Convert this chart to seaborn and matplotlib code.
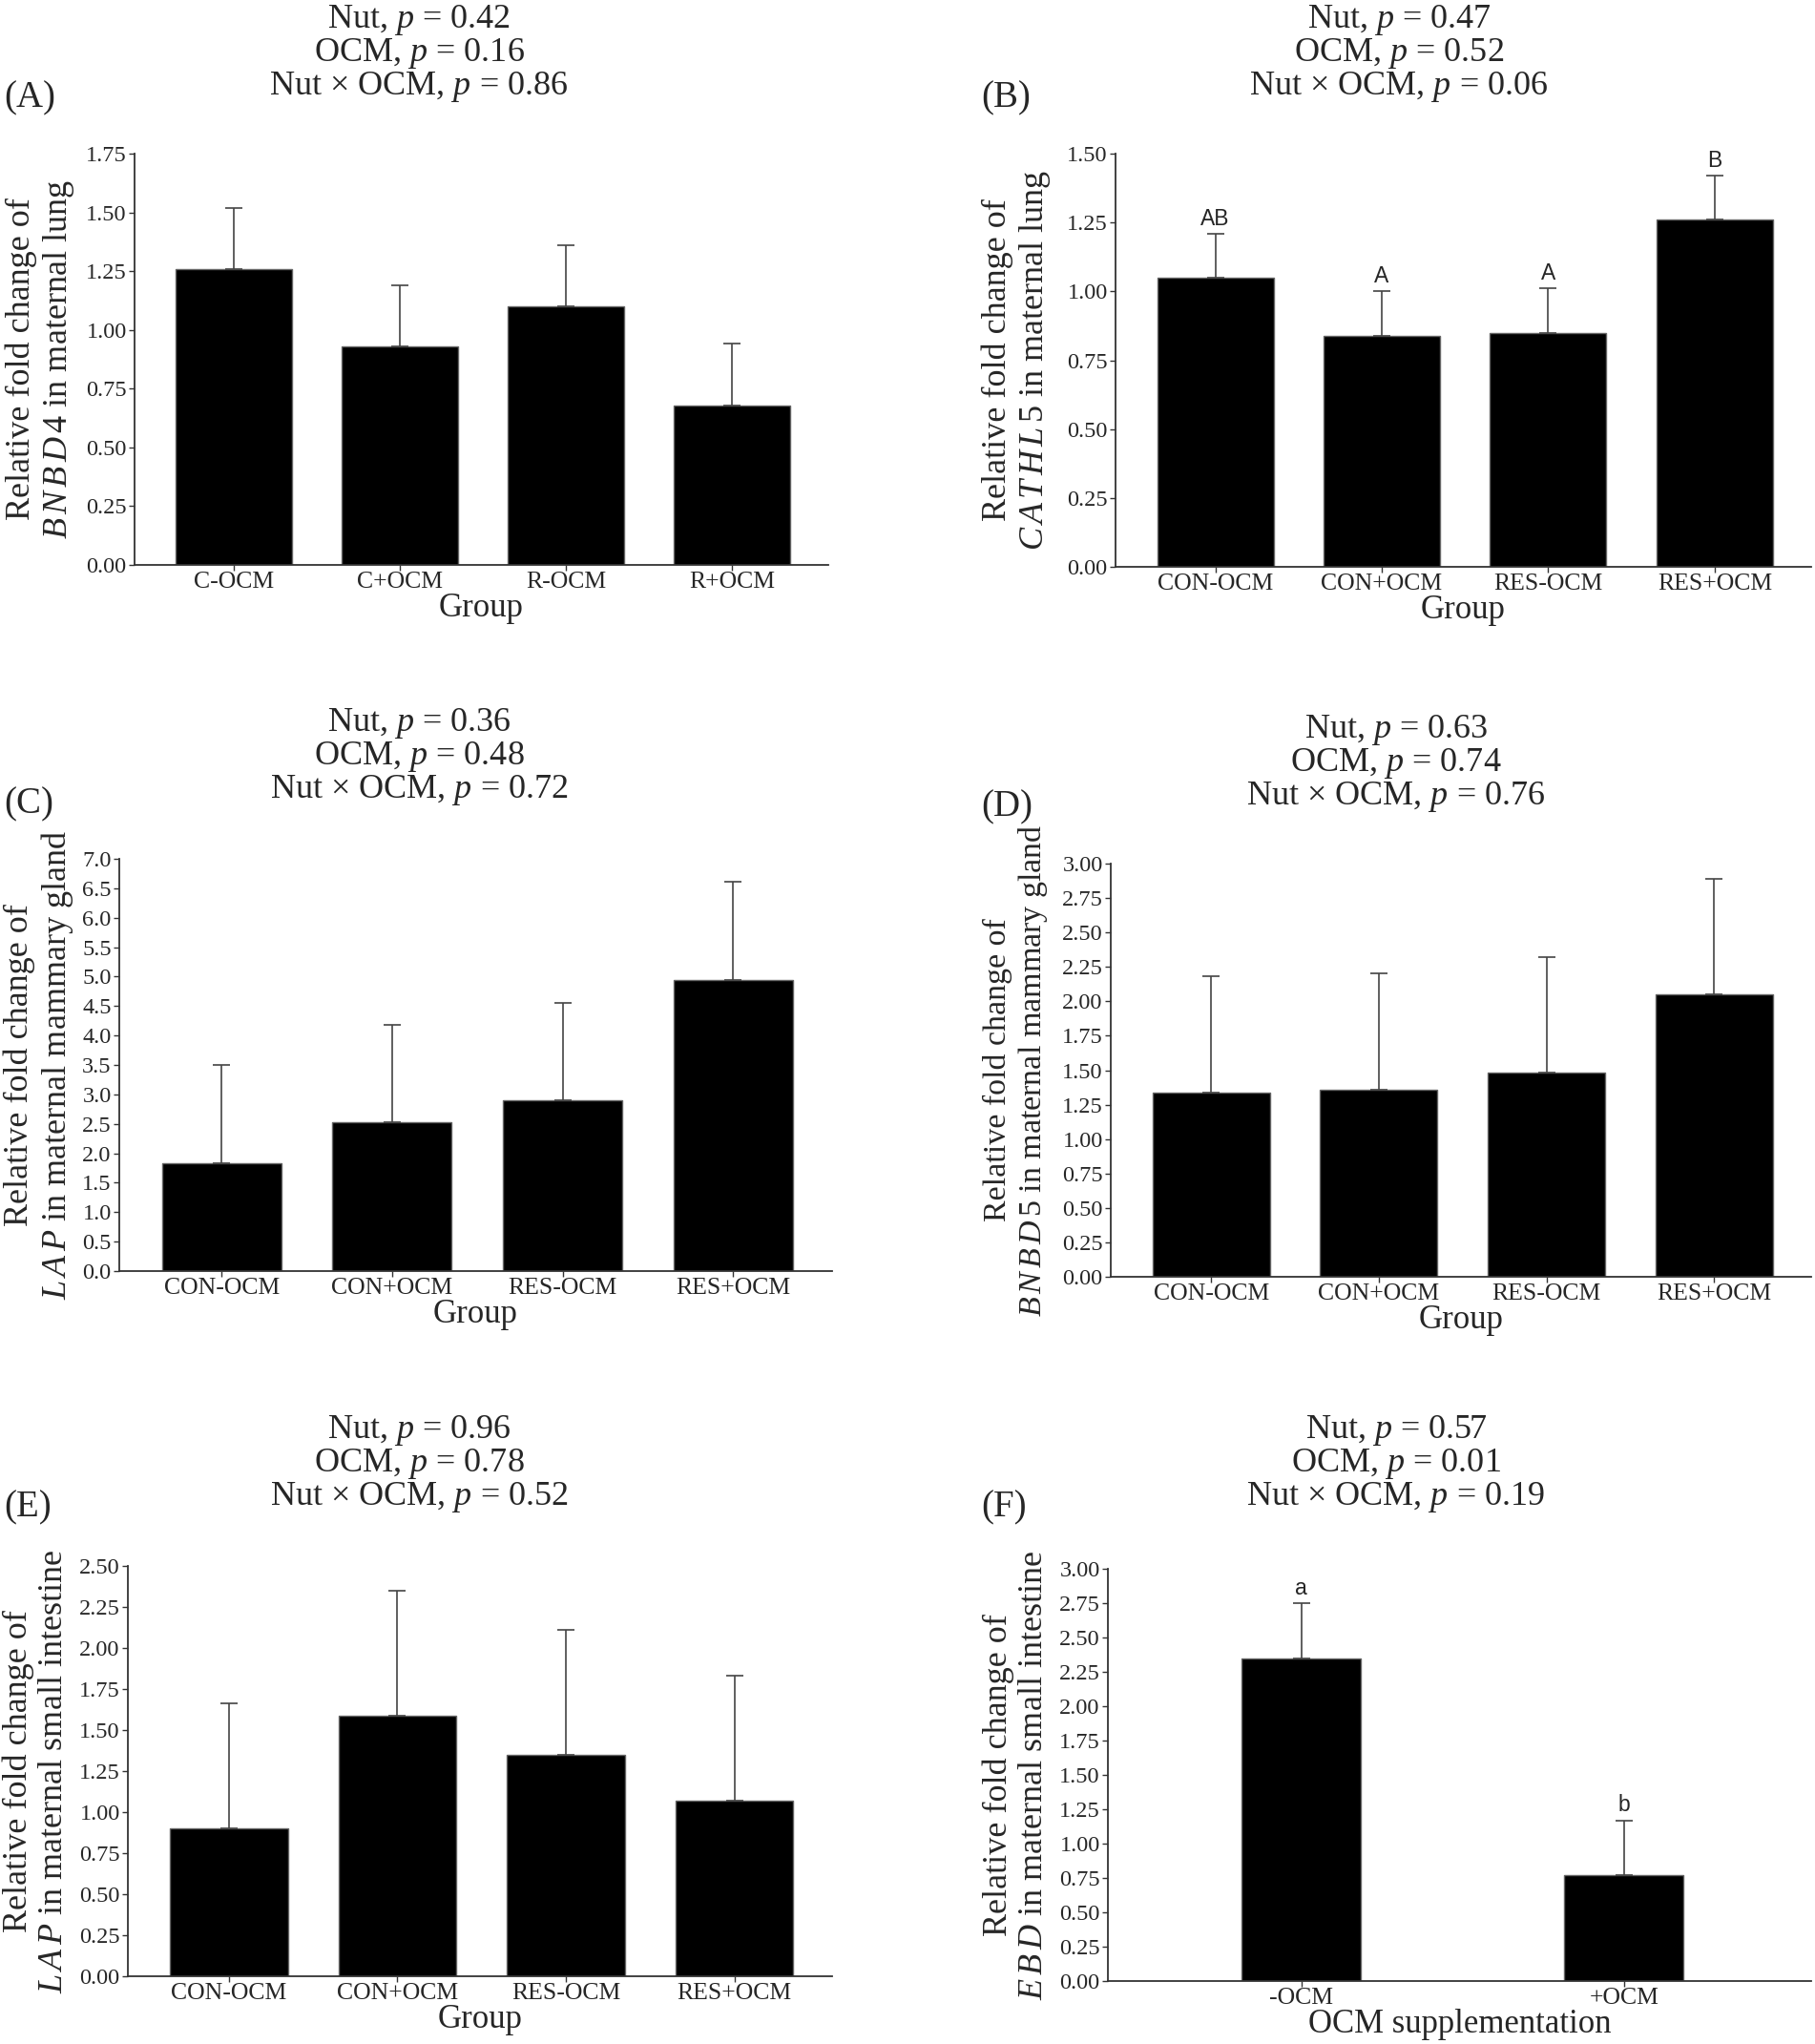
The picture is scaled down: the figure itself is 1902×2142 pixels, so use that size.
import numpy as np
import pandas as pd
import seaborn as sns
from matplotlib import pyplot as plt

### Values (bar means and top of the error bars)
groups_a = ['C-OCM', 'C+OCM', 'R-OCM', 'R+OCM']
groups = ['CON-OCM', 'CON+OCM', 'RES-OCM', 'RES+OCM']
groups_f = ['-OCM', '+OCM']

a_mean = [1.26, 0.93, 1.10, 0.68]
a_upper = [1.52, 1.19, 1.36, 0.94]
b_mean = [1.05, 0.84, 0.85, 1.26]
b_upper = [1.21, 1.00, 1.01, 1.42]
b_letters = ['AB', 'A', 'A', 'B']
c_mean = [1.83, 2.52, 2.90, 4.95]
c_upper = [3.50, 4.18, 4.56, 6.61]
d_mean = [1.34, 1.36, 1.48, 2.05]
d_upper = [2.18, 2.20, 2.32, 2.89]
e_mean = [0.90, 1.59, 1.35, 1.07]
e_upper = [1.66, 2.35, 2.11, 1.83]
f_mean = [2.35, 0.77]
f_upper = [2.75, 1.17]
f_letters = ['a', 'b']

p_a = ['0.42', '0.16', '0.86']
p_b = ['0.47', '0.52', '0.06']
p_c = ['0.36', '0.48', '0.72']
p_d = ['0.63', '0.74', '0.76']
p_e = ['0.96', '0.78', '0.52']
p_f = ['0.57', '0.01', '0.19']

sns.set_style('ticks')
plt.rcParams['font.family'] = ['Liberation Serif', 'DejaVu Serif']
plt.rcParams['mathtext.fontset'] = 'custom'
plt.rcParams['mathtext.rm'] = 'Liberation Serif'
plt.rcParams['mathtext.it'] = 'Liberation Serif:italic'

W, H = 1902, 2142
fig = plt.figure(figsize=(W / 100, H / 100), dpi=100)


def gene_text(gene):
    # italic gene name, letters a little spread out like the original
    return '$\\mathit{' + '\\,'.join(gene) + '}$'


def panel(box, cats, means, uppers, ymax, ystep, fmt, gene, tissue, xlabel,
          pvals, tag, title_x, title_y, tag_xy, label_dx, letters=None, width=0.7,
          label_size=26):
    left, top, right, bottom = box
    ax = fig.add_axes([left / W, 1 - bottom / H, (right - left) / W, (bottom - top) / H])
    df = pd.DataFrame({'Group': cats, 'Value': means})
    sns.barplot(data=df, x='Group', y='Value', color='black', width=width,
                errorbar=None, edgecolor='#666666', linewidth=1, ax=ax)
    x = np.arange(len(cats))
    m = np.array(means)
    u = np.array(uppers)
    ax.errorbar(x, m, yerr=[np.zeros_like(m), u - m], fmt='none', ecolor='#444444',
                elinewidth=1.2, capsize=6.5, capthick=1.2)
    if letters:
        for xi, up, lab in zip(x, u, letters):
            ax.annotate(lab, (xi, up), xytext=(0, 3), textcoords='offset points',
                        ha='center', va='bottom', family='Liberation Sans', fontsize=16.5)
    ax.set_xlim(-0.6, len(cats) - 1 + 0.58)
    ax.set_ylim(0, ymax)
    ticks = np.arange(0, ymax + ystep / 2, ystep)
    ax.set_yticks(ticks)
    ax.set_yticklabels([fmt.format(t) for t in ticks])
    sns.despine(ax=ax)
    for s in ['left', 'bottom']:
        ax.spines[s].set_color('#333333')
        ax.spines[s].set_linewidth(1.3)
    ax.tick_params(axis='both', length=4, width=1, color='#333333')
    ax.tick_params(axis='y', pad=2, labelsize=17.5)
    ax.tick_params(axis='x', pad=1, labelsize=18.5)
    ax.set_xlabel(xlabel, fontsize=25, labelpad=0)
    ax.set_ylabel('Relative fold change of\n' + gene_text(gene) + ' in ' + tissue,
                  fontsize=label_size, linespacing=1.15)
    ax.yaxis.set_label_coords(label_dx / (right - left), 0.5)

    # three-line title with the p values
    lines = ['Nut, $p$ = ' + pvals[0], 'OCM, $p$ = ' + pvals[1],
             'Nut \u00d7 OCM, $p$ = ' + pvals[2]]
    for k, line in enumerate(lines):
        fig.text(title_x / W, 1 - (title_y + 35 * k) / H, line, ha='center', va='center',
                 fontsize=26)
    fig.text(tag_xy[0] / W, 1 - tag_xy[1] / H, tag, ha='left', va='center', fontsize=28)
    return ax


panel((141, 161, 868, 592), groups_a, a_mean, a_upper, 1.75, 0.25, '{:.2f}', 'BNBD4',
      'maternal lung', 'Group', p_a, '(A)', 439, 21, (4, 103), -61)
panel((1169, 161, 1898, 594), groups, b_mean, b_upper, 1.50, 0.25, '{:.2f}', 'CATHL5',
      'maternal lung', 'Group', p_b, '(B)', 1466, 21, (1028, 103), -66, letters=b_letters)
panel((125, 900, 872, 1332), groups, c_mean, c_upper, 7.0, 0.5, '{:.1f}', 'LAP',
      'maternal mammary gland', 'Group', p_c, '(C)', 439, 758, (4, 843), -46)
panel((1164, 905, 1898, 1338), groups, d_mean, d_upper, 3.00, 0.25, '{:.2f}', 'BNBD5',
      'maternal mammary gland', 'Group', p_d, '(D)', 1463, 765, (1028, 846), -64,
      label_size=24.5)
panel((134, 1641, 872, 2071), groups, e_mean, e_upper, 2.50, 0.25, '{:.2f}', 'LAP',
      'maternal small intestine', 'Group', p_e, '(E)', 439, 1499, (4, 1580), -61)
panel((1161, 1644, 1898, 2076), groups_f, f_mean, f_upper, 3.00, 0.25, '{:.2f}', 'EBD',
      'maternal small intestine', 'OCM supplementation', p_f, '(F)', 1463, 1499,
      (1028, 1580), -61, letters=f_letters, width=0.37)

plt.savefig('out.png', dpi=100)
